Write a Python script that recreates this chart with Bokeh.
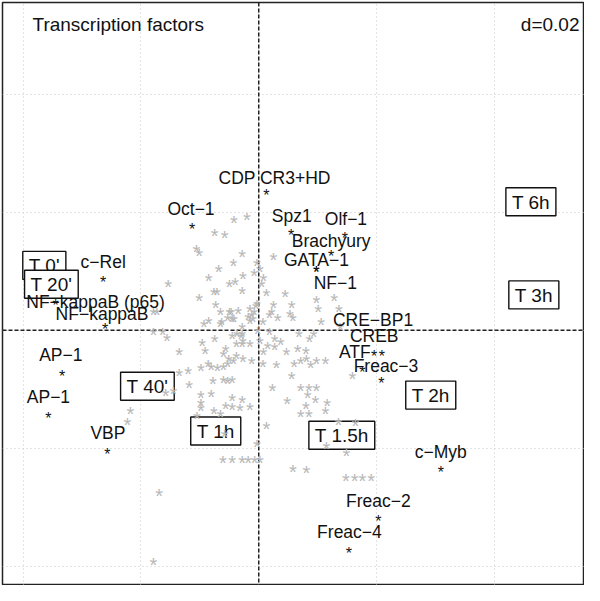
from bokeh.plotting import figure
from bokeh.models import Range1d, Span, Label, Grid, FixedTicker, ColumnDataSource
from bokeh.core.properties import value
from bokeh.embed import file_html
from bokeh.resources import INLINE

D = 0.02
grid_ticks = [-0.04, -0.02, 0.0, 0.02, 0.04]

# grey stars: all other transcription factors
gx = [-0.0042, -0.0020, -0.0075, -0.0058, -0.0106, -0.0101, -0.0028, -0.0043, -0.0068, -0.0003,
      -0.0085, -0.0027, -0.0040, -0.0050, -0.0008, -0.0154, -0.0076, -0.0071, -0.0028, -0.0101,
      -0.0073, -0.0003, -0.0065, -0.0050, -0.0047, -0.0035, -0.0015, -0.0008, -0.0012, -0.0045,
      -0.0042, -0.0063, -0.0015, -0.0010, -0.0093, -0.0085, -0.0028, -0.0179, -0.0173, -0.0053,
      -0.0018, -0.0065, -0.0005,
      0.0025, 0.0002, 0.0008, 0.0005, 0.0013, 0.0045, 0.0098, 0.0128, 0.0025, 0.0056,
      0.0022, 0.0018, 0.0053, 0.0101, 0.0032, 0.0058, 0.0106, 0.0136, 0.0007, 0.0138,
      -0.0179, -0.0163, -0.0156, -0.0135, -0.0096, -0.0075, -0.0091, -0.0056, -0.0060, -0.0045,
      -0.0028, -0.0038, -0.0028, -0.0015, -0.0051, -0.0043, -0.0038, -0.0027, -0.0012, -0.0053,
      -0.0086, -0.0081, -0.0070, -0.0098, -0.0060, -0.0120, -0.0135, -0.0118, -0.0078, -0.0060,
      -0.0053, -0.0045, -0.0158, -0.0145, -0.0098, -0.0081, -0.0045, -0.0028, -0.0098, -0.0098,
      -0.0056, -0.0045, -0.0032, -0.0015, -0.0076, -0.0065, -0.0105, -0.0058, -0.0003, -0.0061,
      -0.0045, -0.0028, -0.0018, -0.0007, -0.0218, -0.0223, -0.0169, -0.0179, -0.0037, -0.0030,
      -0.0027, -0.0002,
      0.0002, 0.0027, 0.0068, 0.0093, 0.0086, 0.0037, 0.0015, 0.0027, 0.0008, 0.0047,
      0.0066, 0.0080, 0.0081, 0.0071, 0.0098, 0.0113, 0.0060, 0.0030, 0.0088, 0.0007,
      0.0056, 0.0159, 0.0023, 0.0071, 0.0085, 0.0098, 0.0083, 0.0048, 0.0096, 0.0116,
      0.0080, 0.0113, 0.0071, 0.0085, 0.0013, 0.0135, 0.0164, 0.0115, 0.0149, 0.0058,
      0.0081, 0.0148, 0.0163, 0.0176, 0.0191, 0.0018, 0.0002]
gy = [0.0188, 0.0193, 0.0166, 0.0164, 0.0140, 0.0133, 0.0131, 0.0116, 0.0106, 0.0116,
      0.0090, 0.0093, 0.0083, 0.0080, 0.0098, 0.0080, 0.0066, 0.0066, 0.0068, 0.0056,
      0.0045, 0.0047, 0.0032, 0.0033, 0.0032, 0.0035, 0.0037, 0.0033, 0.0028, 0.0020,
      0.0020, 0.0015, 0.0017, 0.0020, 0.0013, 0.0017, 0.0008, 0.0033, 0.0033, 0.0023,
      0.0025, 0.0012, 0.0042,
      0.0126, 0.0106, 0.0091, 0.0081, 0.0065, 0.0063, 0.0053, 0.0056, 0.0045, 0.0045,
      0.0032, 0.0028, 0.0030, 0.0037, 0.0022, 0.0022, 0.0015, 0.0037, 0.0015, 0.0007,
      -0.0002, -0.0002, -0.0012, -0.0035, -0.0020, -0.0013, -0.0033, -0.0030, -0.0038, -0.0008,
      -0.0005, -0.0022, -0.0022, -0.0022, -0.0047, -0.0050, -0.0042, -0.0047, -0.0050, -0.0055,
      -0.0055, -0.0060, -0.0063, -0.0063, -0.0060, -0.0068, -0.0071, -0.0091, -0.0085, -0.0083,
      -0.0085, -0.0083, -0.0105, -0.0101, -0.0108, -0.0106, -0.0113, -0.0116, -0.0121, -0.0130,
      -0.0126, -0.0128, -0.0130, -0.0128, -0.0135, -0.0140, -0.0143, -0.0174, -0.0191, -0.0218,
      -0.0218, -0.0218, -0.0218, -0.0218, -0.0135, -0.0154, -0.0274, -0.0392, -0.0005, -0.0008,
      -0.0017, 0.0000,
      -0.0017, -0.0013, -0.0005, -0.0005, -0.0013, -0.0018, -0.0025, -0.0027, -0.0035, -0.0035,
      -0.0030, -0.0033, -0.0047, -0.0051, -0.0051, -0.0051, -0.0055, -0.0058, -0.0058, -0.0055,
      -0.0076, -0.0076, -0.0096, -0.0096, -0.0096, -0.0096, -0.0108, -0.0118, -0.0116, -0.0121,
      -0.0126, -0.0135, -0.0141, -0.0141, -0.0161, -0.0154, -0.0156, -0.0194, -0.0206, -0.0233,
      -0.0236, -0.0249, -0.0249, -0.0249, -0.0249, -0.0002, -0.0218]

# labelled transcription factors: point and label position
tf_names = ["CDP CR3+HD", "Oct\u22121", "Spz1", "Olf\u22121", "Brachyury", "GATA\u22121", "NF\u22121",
            "c\u2212Rel", "NF\u2212kappaB (p65)", "NF\u2212kappaB", "AP\u22121", "AP\u22121", "VBP",
            "CRE\u2212BP1", "CREB", "ATF", "Freac\u22123", "c\u2212Myb", "Freac\u22122", "Freac\u22124"]
tf_x = [0.0013, -0.0113, 0.0055, 0.0146, 0.0123, 0.0098, 0.0098,
        -0.0264, -0.0345, -0.0261, -0.0334, -0.0357, -0.0257,
        0.0209, 0.0196, 0.0176, 0.0208, 0.0309, 0.0203, 0.0153]
tf_y = [0.0233, 0.0176, 0.0166, 0.0161, 0.0130, 0.0103, 0.0103,
        0.0086, 0.0047, 0.0007, -0.0073, -0.0145, -0.0206,
        -0.0040, -0.0040, -0.0066, -0.0086, -0.0236, -0.0319, -0.0374]
tf_lx = [0.0027, -0.0115, 0.0056, 0.0148, 0.0123, 0.0098, 0.0130,
         -0.0264, -0.0277, -0.0266, -0.0336, -0.0357, -0.0256,
         0.0194, 0.0196, 0.0163, 0.0216, 0.0309, 0.0203, 0.0154]
tf_ly = [0.0259, 0.0206, 0.0193, 0.0188, 0.0151, 0.0120, 0.0080,
         0.0116, 0.0048, 0.0028, -0.0042, -0.0113, -0.0174,
         0.0017, -0.0010, -0.0037, -0.0060, -0.0206, -0.0289, -0.0342]

# time points
t_names = ["T 0'", "T 20'", "T 40'", "T 1h", "T 1.5h", "T 2h", "T 3h", "T 6h"]
t_x = [-0.0364, -0.0352, -0.0189, -0.0073, 0.0141, 0.0292, 0.0467, 0.0462]
t_y = [0.0110, 0.0078, -0.0095, -0.0171, -0.0178, -0.0110, 0.0060, 0.0218]

W, H = 584, 585
p = figure(width=W, height=H, x_range=Range1d(-0.0435, 0.0553), y_range=Range1d(-0.0433, 0.0556),
           output_backend="svg", toolbar_location=None, x_axis_location=None, y_axis_location=None,
           min_border=0, min_border_left=2, min_border_top=2,
           background_fill_color="white", border_fill_color="white")
p.xgrid.visible = False
p.ygrid.visible = False
p.outline_line_color = "#222222"
p.outline_line_width = 1.5

for dim in (0, 1):
    g = Grid(dimension=dim, ticker=FixedTicker(ticks=grid_ticks), grid_line_color="#c8c8c8",
             grid_line_dash="1 3", grid_line_width=1)
    p.add_layout(g)

for dim in ("height", "width"):
    p.add_layout(Span(location=0, dimension=dim, line_color="#222222", line_dash="4 2",
                      line_width=1.5, level="underlay"))

font = value("Liberation Sans")

# time labels in boxes
tsrc = ColumnDataSource(dict(x=t_x, y=t_y, t=t_names))
p.text(x="x", y="y", text="t", source=tsrc, text_font=font, text_font_size="19px",
       text_align="center", text_baseline="middle", text_color="#111111",
       background_fill_color="white", border_line_color="#111111", border_line_width=1.4,
       padding=dict(left=6, right=6, top=4, bottom=3))

# grey stars
gsrc = ColumnDataSource(dict(x=gx, y=gy, t=["*"] * len(gx)))
p.text(x="x", y="y", text="t", source=gsrc, text_font=font, text_font_size="20px",
       text_align="center", text_baseline="alphabetic", y_offset=4, text_color="#b8b8b8")

# black stars and labels
ssrc = ColumnDataSource(dict(x=tf_x, y=tf_y, t=["*"] * len(tf_x)))
p.text(x="x", y="y", text="t", source=ssrc, text_font=font, text_font_size="16px",
       text_align="center", text_baseline="alphabetic", y_offset=3, text_color="#111111")
lsrc = ColumnDataSource(dict(x=tf_lx, y=tf_ly, t=tf_names))
p.text(x="x", y="y", text="t", source=lsrc, text_font=font, text_font_size="17.5px",
       text_align="center", text_baseline="middle", text_color="#111111")

p.add_layout(Label(x=30, y=H - 24, x_units="screen", y_units="screen", text="Transcription factors",
                   text_font="Liberation Sans", text_font_size="19px", text_baseline="middle",
                   text_color="#111111"))
p.add_layout(Label(x=W - 7, y=H - 24, x_units="screen", y_units="screen", text="d=0.02",
                   text_font="Liberation Sans", text_font_size="19px", text_baseline="middle",
                   text_align="right", text_color="#111111"))

open("out.html", "w").write(file_html(p, INLINE))
